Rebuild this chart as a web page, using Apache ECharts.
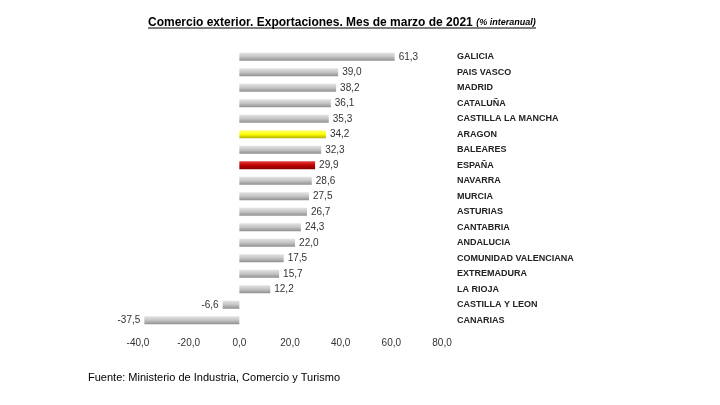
<!DOCTYPE html>
<html><head><meta charset="utf-8">
<script src="https://cdn.jsdelivr.net/npm/echarts@6/dist/echarts.min.js"></script>
<style>html,body{margin:0;padding:0;background:#fff}#c{width:720px;height:405px}</style>
</head><body><div id="c"></div>
<script>
const categories=["GALICIA","PAIS VASCO","MADRID","CATALUÑA","CASTILLA LA MANCHA","ARAGON","BALEARES","ESPAÑA","NAVARRA","MURCIA","ASTURIAS","CANTABRIA","ANDALUCIA","COMUNIDAD VALENCIANA","EXTREMADURA","LA RIOJA","CASTILLA Y LEON","CANARIAS"];
const values=[61.3,39.0,38.2,36.1,35.3,34.2,32.3,29.9,28.6,27.5,26.7,24.3,22.0,17.5,15.7,12.2,-6.6,-37.5];
const xTicks=[-40,80,20];
const grey=new echarts.graphic.LinearGradient(0,0,0,1,[{offset:0,color:'#e4e4e4'},{offset:0.5,color:'#c4c4c4'},{offset:1,color:'#8f8f8f'}]);
const yellow=new echarts.graphic.LinearGradient(0,0,0,1,[{offset:0,color:'#ffff80'},{offset:0.5,color:'#ffff00'},{offset:1,color:'#b0b000'}]);
const red=new echarts.graphic.LinearGradient(0,0,0,1,[{offset:0,color:'#e04040'},{offset:0.5,color:'#c00000'},{offset:1,color:'#800000'}]);
const fmt=v=>v.toFixed(1).replace('.',',');
const chart=echarts.init(document.getElementById('c'));
chart.setOption({
 animation:false,
 title:{text:'Comercio exterior. Exportaciones. Mes de marzo de 2021 {s|(% interanual)}',left:143,top:12,
  textStyle:{fontFamily:'Liberation Sans',fontSize:12,fontWeight:'bold',color:'#000',rich:{s:{fontSize:9,fontStyle:'italic',fontWeight:'bold'}}}},
 graphic:[
  {type:'line',shape:{x1:148,y1:28,x2:536,y2:28},style:{stroke:'#000',lineWidth:1}},
  {type:'text',left:88,top:372,style:{text:'Fuente: Ministerio de Industria, Comercio y Turismo',font:'11px "Liberation Sans"',fill:'#000'}}
 ],
 grid:{left:138,right:278,top:49,bottom:77},
 xAxis:{type:'value',min:xTicks[0],max:xTicks[1],interval:xTicks[2],
  axisLabel:{formatter:fmt,fontFamily:'Liberation Sans',fontSize:10,color:'#333',margin:10},
  splitLine:{show:false},axisLine:{show:false},axisTick:{show:false}},
 yAxis:{type:'category',data:categories,inverse:true,position:'right',
  axisLine:{show:false},axisTick:{show:false},
  axisLabel:{align:'left',margin:15,fontFamily:'Liberation Sans',fontSize:9,fontWeight:'bold',color:'#222'}},
 series:[{type:'bar',barWidth:8,
  data:values.map((v,i)=>({value:v,itemStyle:{color:categories[i]==='ARAGON'?yellow:categories[i]==='ESPAÑA'?red:grey},
   label:{position:v<0?'left':'right'}})),
  label:{show:true,formatter:p=>fmt(p.value),fontFamily:'Liberation Sans',fontSize:10,color:'#333',distance:4}}]
});
</script></body></html>
